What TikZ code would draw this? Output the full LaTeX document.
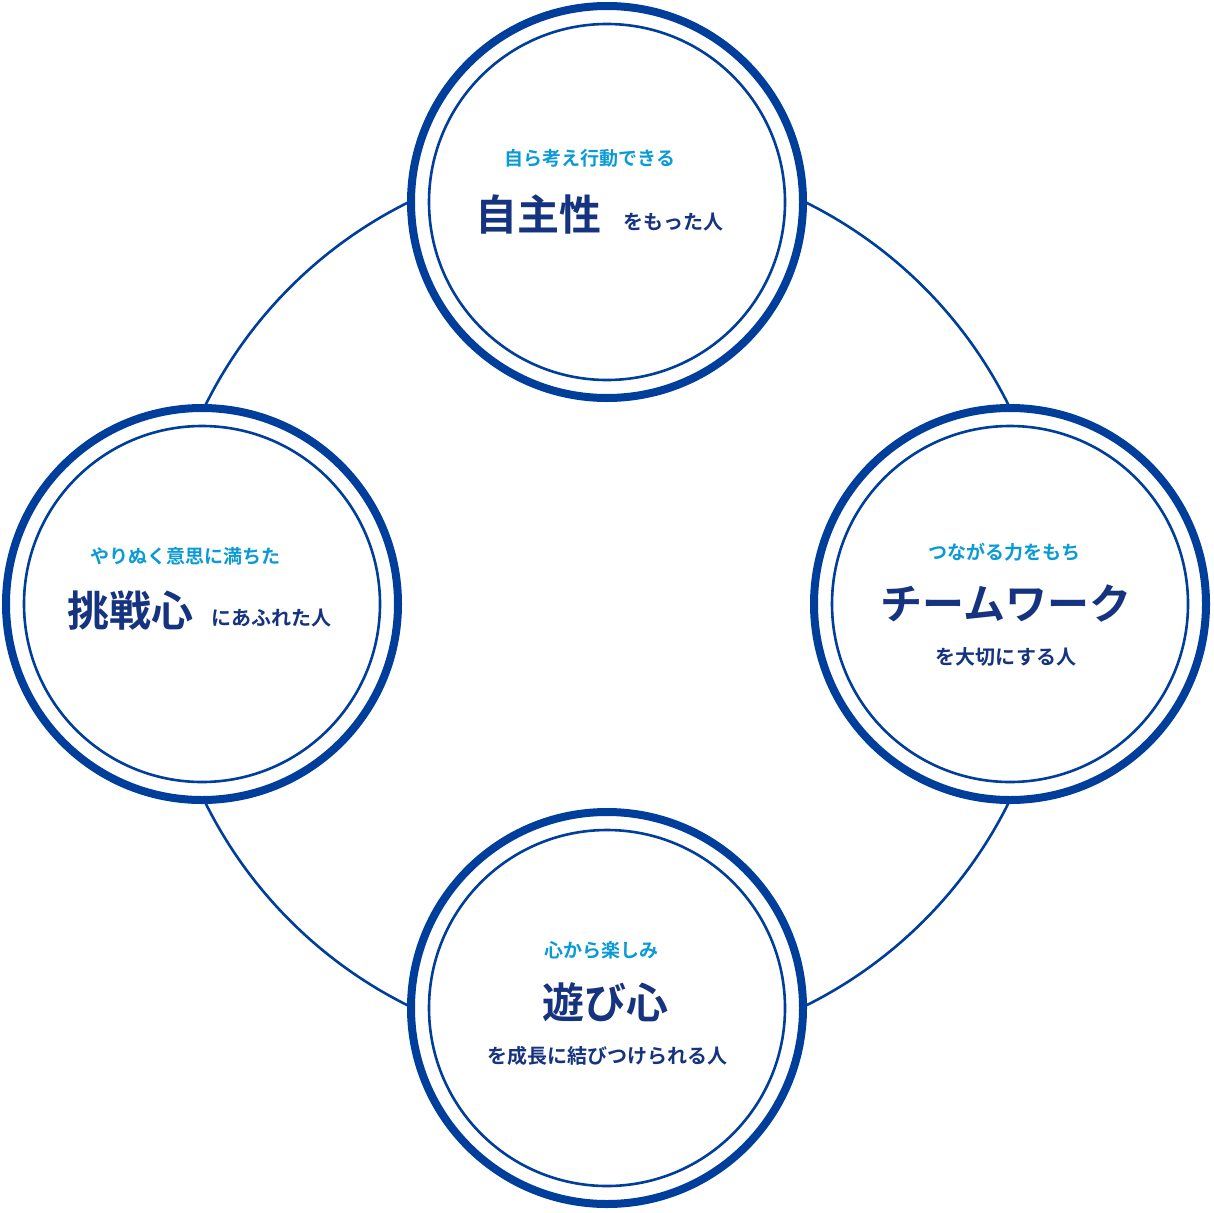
\documentclass[tikz,border=0pt]{standalone}
\usepackage{fontspec}
\setmainfont{Noto Sans CJK JP}[BoldFont={Noto Sans CJK JP Bold}]
\definecolor{ringblue}{HTML}{003E9C}
\definecolor{subcyan}{HTML}{0A9AD6}
\definecolor{textnavy}{HTML}{16337F}
\begin{document}
\begin{tikzpicture}[x=1pt,y=-1pt,
  outerring/.style={draw=ringblue,line width=8pt,fill=white,circle,minimum size=392pt,inner sep=0pt},
  innerring/.style={draw=ringblue,line width=2.6pt,circle,minimum size=356pt,inner sep=0pt},
  subtext/.style={text=subcyan,font=\bfseries\fontsize{19}{22}\selectfont},
  titletext/.style={text=textnavy,font=\bfseries\fontsize{42}{46}\selectfont},
  smalltext/.style={text=textnavy,font=\bfseries\fontsize{20}{24}\selectfont}]

\useasboundingbox (0,0) rectangle (1214,1212);

% connecting ring
\node[draw=ringblue,line width=2.6pt,circle,minimum size=896pt,inner sep=0pt] (loop) at (607,604) {};

% four rings
\foreach \name/\cx/\cy in {top/607/202,left/202/604,right/1010/604,bottom/607/1008}{
  \node[outerring] (\name) at (\cx,\cy) {};
  \node[innerring] (\name in) at (\cx,\cy) {};
}

% top
\node[subtext] (topsub) at (590,158) {自ら考え行動できる};
\node[titletext,anchor=base west] (toptitle) at (472,230) {自主性};
\node[smalltext,anchor=base west] (topsmall) at (620,229) {をもった人};

% right
\node[subtext] (rightsub) at (1004,552) {つながる力をもち};
\node[titletext] (righttitle) at (1006,603) {チームワーク};
\node[smalltext] (rightsmall) at (1006,657) {を大切にする人};

% bottom
\node[subtext] (bottomsub) at (601,950) {心から楽しみ};
\node[titletext] (bottomtitle) at (605,1002) {遊び心};
\node[smalltext] (bottomsmall) at (607,1056) {を成長に結びつけられる人};

% left
\node[subtext] (leftsub) at (185,556) {やりぬく意思に満ちた};
\node[titletext,anchor=base west] (lefttitle) at (64,626) {挑戦心};
\node[smalltext,anchor=base west] (leftsmall) at (208,625) {にあふれた人};

\end{tikzpicture}
\end{document}
